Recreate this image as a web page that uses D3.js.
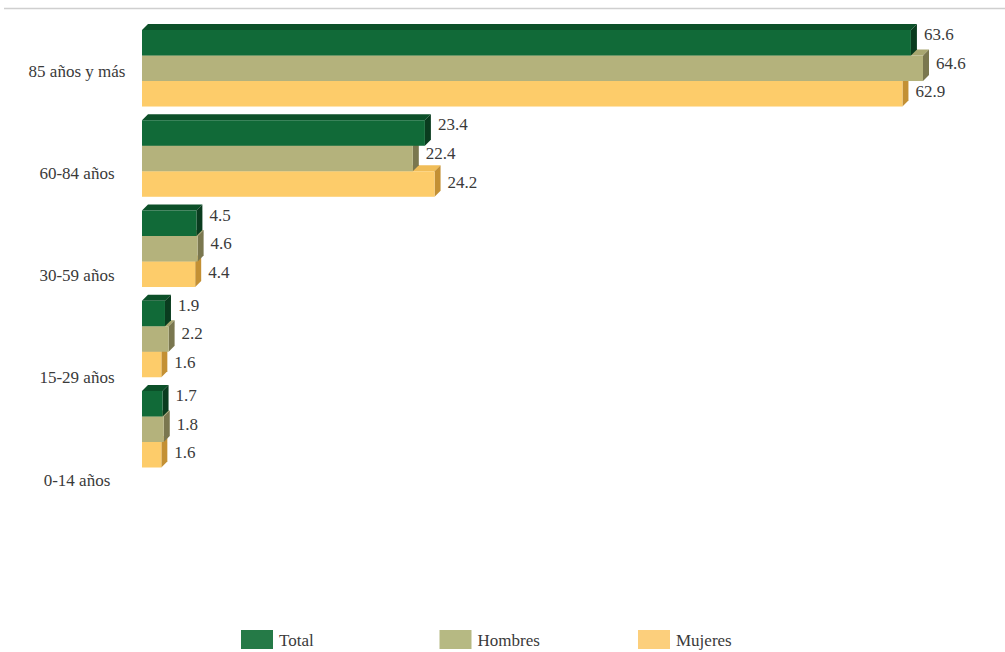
<!DOCTYPE html>
<html>
<head>
<meta charset="utf-8">
<script src="https://cdnjs.cloudflare.com/ajax/libs/d3/7.8.5/d3.min.js"></script>
<style>
  html, body { margin: 0; padding: 0; background: #fff; }
  svg { display: block; }
</style>
</head>
<body>
<svg id="chart" width="1005" height="652"></svg>
<script>
// ---- Data ----
const categories = ["85 años y más", "60-84 años", "30-59 años", "15-29 años", "0-14 años"];
const seriesNames = ["Total", "Hombres", "Mujeres"];
const totalValues   = [63.6, 23.4, 4.5, 1.9, 1.7];
const hombresValues = [64.6, 22.4, 4.6, 2.2, 1.8];
const mujeresValues = [62.9, 24.2, 4.4, 1.6, 1.6];

const seriesValues = { "Total": totalValues, "Hombres": hombresValues, "Mujeres": mujeresValues };
const colors = {
  "Total":   { front: "#116a38", top: "#0c5029", side: "#0a3c1f", legend: "#257a47" },
  "Hombres": { front: "#b4b27c", top: "#a8a670", side: "#7a774f", legend: "#b6b983" },
  "Mujeres": { front: "#fdcc6a", top: "#f0bd58", side: "#c39034", legend: "#fccf7c" }
};
const FONT = '"Liberation Serif", "Times New Roman", Tinos, serif';

const svg = d3.select("#chart");
const depth = 6;

// top rule
svg.append("line")
  .attr("x1", 4).attr("x2", 1005).attr("y1", 8.5).attr("y2", 8.5)
  .attr("stroke", "#cfcfcf").attr("stroke-width", 1.5);

const x = d3.scaleLinear().domain([0, 64.6]).range([142, 923]);
const y0 = d3.scaleBand().domain(categories).range([30, 467.5]).paddingInner(0.152).paddingOuter(0);
const y1 = d3.scaleBand().domain(seriesNames).range([0, y0.bandwidth()]).padding(0);
const yLabel = d3.scalePoint().domain(categories).range([71, 480]);
const labelShift = d3.scalePoint().domain(seriesNames).range([-8, -2]);

const drawOrder = ["Mujeres", "Hombres", "Total"];
const bars = [];
categories.forEach((c, i) => {
  drawOrder.forEach(s => {
    bars.push({ cat: c, series: s, value: seriesValues[s][i] });
  });
});

const g = svg.append("g");
bars.forEach(b => {
  const x0 = x(0), x1 = x(b.value);
  const yt = y0(b.cat) + y1(b.series);
  const h = y1.bandwidth();
  const col = colors[b.series];
  const bg = g.append("g");
  bg.append("path")
    .attr("d", `M${x0},${yt} L${x0 + depth},${yt - depth} L${x1 + depth},${yt - depth} L${x1},${yt} Z`)
    .attr("fill", col.top);
  bg.append("path")
    .attr("d", `M${x1},${yt} L${x1 + depth},${yt - depth} L${x1 + depth},${yt + h - depth} L${x1},${yt + h} Z`)
    .attr("fill", col.side);
  bg.append("rect")
    .attr("x", x0).attr("y", yt)
    .attr("width", x1 - x0).attr("height", h)
    .attr("fill", col.front);
});

// value labels
svg.append("g").selectAll("text")
  .data(bars)
  .join("text")
  .attr("x", d => x(d.value) + depth + 7)
  .attr("y", d => y0(d.cat) + y1(d.series) + y1.bandwidth() / 2 + labelShift(d.series))
  .attr("dominant-baseline", "central")
  .style("font-family", FONT)
  .style("font-size", "17px")
  .attr("fill", "#3a3a3a")
  .text(d => d.value.toFixed(1));

// category labels
svg.append("g").selectAll("text")
  .data(categories)
  .join("text")
  .attr("x", 77)
  .attr("y", d => yLabel(d))
  .attr("text-anchor", "middle")
  .attr("dominant-baseline", "central")
  .style("font-family", FONT)
  .style("font-size", "17px")
  .attr("fill", "#3a3a3a")
  .text(d => d);

// legend
const legendX = d3.scalePoint().domain(seriesNames).range([241, 638]);
const lg = svg.append("g").selectAll("g")
  .data(seriesNames)
  .join("g")
  .attr("transform", d => `translate(${legendX(d)},630)`);
lg.append("rect")
  .attr("width", 32).attr("height", 19)
  .attr("fill", d => colors[d].legend);
lg.append("text")
  .attr("x", 38).attr("y", 10)
  .attr("dominant-baseline", "central")
  .style("font-family", FONT)
  .style("font-size", "17px")
  .attr("fill", "#3a3a3a")
  .text(d => d);
</script>
</body>
</html>
